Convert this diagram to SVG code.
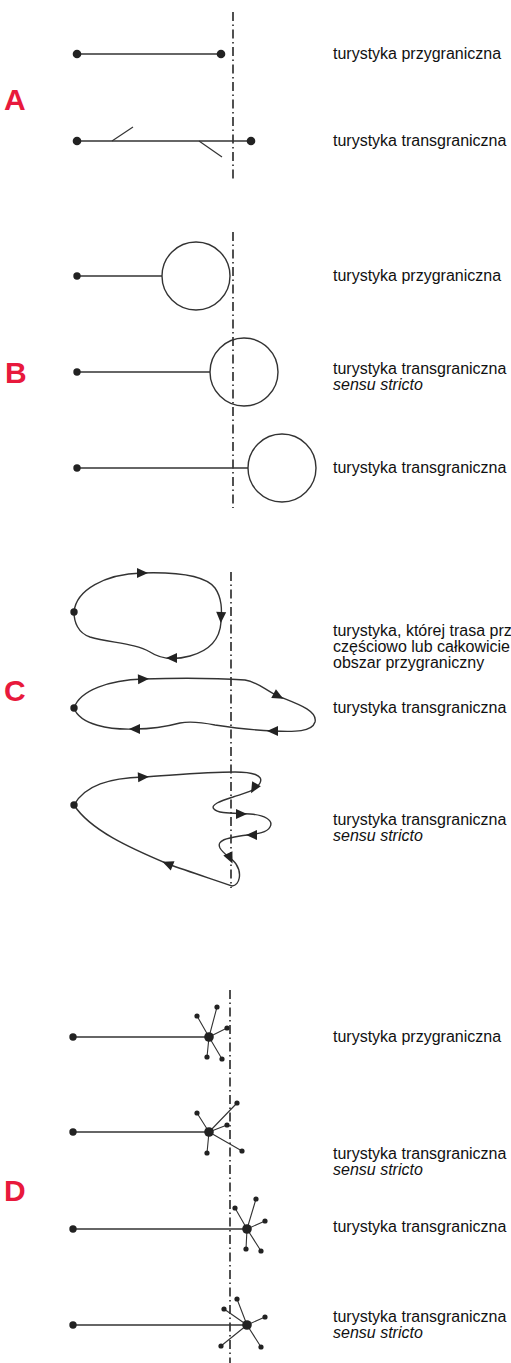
<svg xmlns="http://www.w3.org/2000/svg" xmlns:xlink="http://www.w3.org/1999/xlink" width="511" height="1363" viewBox="0 0 511 1363">
<style>
.bg{fill:#ffffff}
.ln{fill:none;stroke:#333;stroke-width:1.4}
.thin{fill:none;stroke:#333;stroke-width:1.1}
.dd{fill:none;stroke:#333;stroke-width:1.7;stroke-dasharray:9 3.5 1.5 3.5}
.dot{fill:#222}
.lbl{font-family:"Liberation Sans",Arial,sans-serif;font-size:16px;fill:#111}
.it{font-style:italic}
.big{font-family:"Liberation Sans",Arial,sans-serif;font-size:30px;font-weight:bold;fill:#e8193c}
</style>
<defs>
<path id="ah" d="M6,0 L-5,-5 L-5,5 Z" fill="#222"/>
</defs>
<rect class="bg" x="0" y="0" width="511" height="1363"/>

<g id="borders">
<line class="dd" x1="233" y1="12" x2="233" y2="182"/>
<line class="dd" x1="233" y1="232" x2="233" y2="508"/>
<line class="dd" x1="231" y1="572" x2="231" y2="888"/>
<line class="dd" x1="230" y1="990" x2="230" y2="1363"/>
</g>

<g id="letters">
<text class="big" x="4" y="110">A</text>
<text class="big" x="5" y="383">B</text>
<text class="big" x="4" y="701">C</text>
<text class="big" x="4" y="1201">D</text>
</g>

<g id="connectors">
<line class="ln" x1="77" y1="54" x2="221" y2="54"/>
<line class="ln" x1="77" y1="141" x2="251" y2="141"/>
<line class="thin" x1="112" y1="141" x2="133" y2="127"/>
<line class="thin" x1="199" y1="141" x2="222" y2="157"/>
<line class="ln" x1="77" y1="276" x2="162" y2="276"/>
<line class="ln" x1="77" y1="372" x2="210" y2="372"/>
<line class="ln" x1="77" y1="468" x2="248" y2="468"/>
<path class="ln" d="M74,612 C76,590 105,574 142,573 C175,572 205,575 215,588 C222,598 222,610 221,622 C220,638 212,650 190,656 C175,660 162,660 150,652 C135,643 110,643 90,637 C78,633 74,622 74,612 Z"/>
<path class="ln" d="M74,708 C80,690 110,680 143,679 C175,678 215,678 245,680 C258,682 265,690 278,696 C295,703 318,710 315,722 C312,732 295,732 273,731 C250,730 235,728 215,725 C200,722 190,721 180,723 C165,727 150,729 135,729 C110,730 80,725 74,708 Z"/>
<path class="ln" d="M74,805 C85,785 110,778 143,777 C175,775 205,772 235,772 C252,772 264,775 260,783 C256,791 245,793 233,797 C220,801 210,805 214,809 C218,814 235,813 250,814 C264,815 274,820 270,827 C266,834 254,834 240,836 C228,838 216,840 220,848 C224,855 232,858 236,864 C242,873 240,885 232,886 C215,880 190,872 168,864 C130,848 90,830 74,805 Z"/>
<line class="ln" x1="73" y1="1037" x2="209" y2="1037"/>
<line class="ln" x1="73" y1="1132" x2="209" y2="1132"/>
<line class="ln" x1="73" y1="1229" x2="247" y2="1229"/>
<line class="ln" x1="73" y1="1325" x2="247" y2="1325"/>
<path class="thin" d="M209,1037 L217,1007 M209,1037 L197,1016 M209,1037 L227,1028 M209,1037 L207,1057 M209,1037 L222,1059"/>
<path class="thin" d="M209,1132 L237,1103 M209,1132 L197,1113 M209,1132 L227,1125 M209,1132 L242,1151 M209,1132 L207,1153"/>
<path class="thin" d="M247,1229 L235,1208 M247,1229 L256,1199 M247,1229 L265,1221 M247,1229 L246,1249 M247,1229 L261,1251"/>
<path class="thin" d="M247,1325 L237,1299 M247,1325 L224,1309 M247,1325 L265,1317 M247,1325 L221,1346 M247,1325 L261,1347"/>
</g>

<g id="arrows">
<use xlink:href="#ah" transform="translate(142,573)"/>
<use xlink:href="#ah" transform="translate(221,617) rotate(92)"/>
<use xlink:href="#ah" transform="translate(172,658) rotate(180)"/>
<use xlink:href="#ah" transform="translate(143,679) rotate(-2)"/>
<use xlink:href="#ah" transform="translate(278,696) rotate(28)"/>
<use xlink:href="#ah" transform="translate(273,731) rotate(180)"/>
<use xlink:href="#ah" transform="translate(135,729) rotate(180)"/>
<use xlink:href="#ah" transform="translate(143,777) rotate(-3)"/>
<use xlink:href="#ah" transform="translate(254,788) rotate(120)"/>
<use xlink:href="#ah" transform="translate(241,814)"/>
<use xlink:href="#ah" transform="translate(252,835) rotate(180)"/>
<use xlink:href="#ah" transform="translate(230,858) rotate(65)"/>
<use xlink:href="#ah" transform="translate(168,864) rotate(202)"/>
</g>

<g id="nodes">
<g id="A1"><circle class="dot" cx="77" cy="54" r="4.3"/><circle class="dot" cx="221" cy="54" r="4.3"/></g>
<g id="A2"><circle class="dot" cx="77" cy="141" r="4.3"/><circle class="dot" cx="251" cy="141" r="4.3"/></g>
<g id="B1"><circle class="dot" cx="77" cy="276" r="3.7"/><circle class="ln" cx="196" cy="276" r="34"/></g>
<g id="B2"><circle class="dot" cx="77" cy="372" r="3.7"/><circle class="ln" cx="244" cy="372" r="34"/></g>
<g id="B3"><circle class="dot" cx="77" cy="468" r="3.7"/><circle class="ln" cx="282" cy="468" r="34"/></g>
<g id="C1"><circle class="dot" cx="74" cy="612" r="3.7"/></g>
<g id="C2"><circle class="dot" cx="74" cy="708" r="3.7"/></g>
<g id="C3"><circle class="dot" cx="74" cy="805" r="3.7"/></g>
<g id="D1"><circle class="dot" cx="73" cy="1037" r="3.7"/><circle class="dot" cx="209" cy="1037" r="4.8"/>
<circle class="dot" cx="217" cy="1007" r="2.6"/><circle class="dot" cx="197" cy="1016" r="2.6"/><circle class="dot" cx="227" cy="1028" r="2.6"/><circle class="dot" cx="207" cy="1057" r="2.6"/><circle class="dot" cx="222" cy="1059" r="2.6"/></g>
<g id="D2"><circle class="dot" cx="73" cy="1132" r="3.7"/><circle class="dot" cx="209" cy="1132" r="4.8"/>
<circle class="dot" cx="237" cy="1103" r="2.6"/><circle class="dot" cx="197" cy="1113" r="2.6"/><circle class="dot" cx="227" cy="1125" r="2.6"/><circle class="dot" cx="242" cy="1151" r="2.6"/><circle class="dot" cx="207" cy="1153" r="2.6"/></g>
<g id="D3"><circle class="dot" cx="73" cy="1229" r="3.7"/><circle class="dot" cx="247" cy="1229" r="4.8"/>
<circle class="dot" cx="235" cy="1208" r="2.6"/><circle class="dot" cx="256" cy="1199" r="2.6"/><circle class="dot" cx="265" cy="1221" r="2.6"/><circle class="dot" cx="246" cy="1249" r="2.6"/><circle class="dot" cx="261" cy="1251" r="2.6"/></g>
<g id="D4"><circle class="dot" cx="73" cy="1325" r="3.7"/><circle class="dot" cx="247" cy="1325" r="4.8"/>
<circle class="dot" cx="237" cy="1299" r="2.6"/><circle class="dot" cx="224" cy="1309" r="2.6"/><circle class="dot" cx="265" cy="1317" r="2.6"/><circle class="dot" cx="221" cy="1346" r="2.6"/><circle class="dot" cx="261" cy="1347" r="2.6"/></g>
</g>

<g id="labels">
<text class="lbl" x="333" y="59">turystyka przygraniczna</text>
<text class="lbl" x="333" y="146">turystyka transgraniczna</text>
<text class="lbl" x="333" y="281">turystyka przygraniczna</text>
<text class="lbl" x="333" y="374">turystyka transgraniczna</text>
<text class="lbl it" x="333" y="390">sensu stricto</text>
<text class="lbl" x="333" y="473">turystyka transgraniczna</text>
<text class="lbl" x="333" y="636">turystyka, której trasa prz</text>
<text class="lbl" x="333" y="652">częściowo lub całkowicie</text>
<text class="lbl" x="333" y="668">obszar przygraniczny</text>
<text class="lbl" x="333" y="713">turystyka transgraniczna</text>
<text class="lbl" x="333" y="825">turystyka transgraniczna</text>
<text class="lbl it" x="333" y="841">sensu stricto</text>
<text class="lbl" x="333" y="1042">turystyka przygraniczna</text>
<text class="lbl" x="333" y="1159">turystyka transgraniczna</text>
<text class="lbl it" x="333" y="1175">sensu stricto</text>
<text class="lbl" x="333" y="1232">turystyka transgraniczna</text>
<text class="lbl" x="333" y="1322">turystyka transgraniczna</text>
<text class="lbl it" x="333" y="1338">sensu stricto</text>
</g>
</svg>
